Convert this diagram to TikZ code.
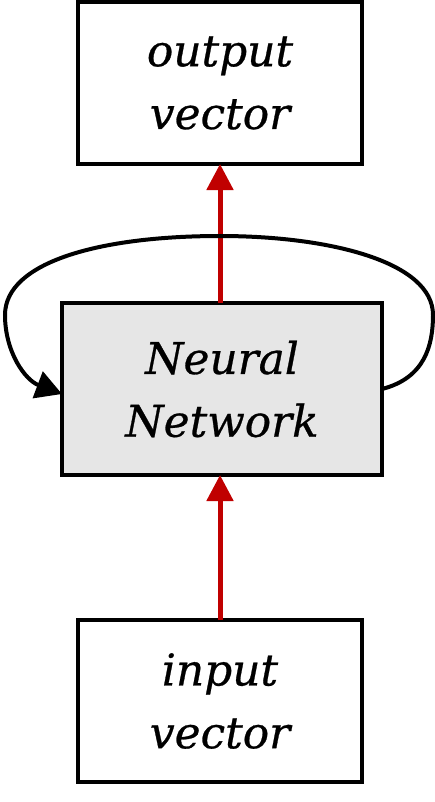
\documentclass[tikz,border=0pt]{standalone}
\usepackage{fontspec}
\setmainfont{DejaVu Serif}
\newfontfamily\boxfont[FakeBold=0.6]{DejaVu Serif}
\usetikzlibrary{arrows.meta}
\definecolor{arrowred}{HTML}{C00000}
\definecolor{nngray}{HTML}{E6E6E6}
\tikzset{
  blockbox/.style={draw=black, line width=4bp, inner sep=0pt, outer sep=0pt,
    align=center, font=\boxfont\itshape\fontsize{44}{63}\selectfont},
  redarrow/.style={draw=arrowred, line width=5bp,
    -{Triangle[length=26bp,width=26bp]}, arrowred},
  looparrow/.style={draw=black, line width=4bp,
    -{Triangle[length=26bp,width=28bp]}},
}
\begin{document}
\begin{tikzpicture}[x=1bp, y={(0bp,-1bp)}]
\useasboundingbox (0,0) rectangle (435,802);
\node[blockbox, minimum width=284bp, minimum height=162bp] (out) at (220,83) {output\\vector};
\node[blockbox, fill=nngray, minimum width=320bp, minimum height=172bp] (nn) at (222,389) {Neural\\Network};
\node[blockbox, minimum width=284bp, minimum height=162bp] (in) at (220,701) {input\\vector};
\draw[redarrow] (in.north -| out.south) -- (nn.south -| out.south);
\draw[redarrow] (nn.north -| out.south) -- (out.south);
\draw[looparrow] (nn.east) .. controls (425,378) and (433,345) .. (433,315)
  .. controls (433,262) and (330,236) .. (220,236)
  .. controls (100,236) and (5,262) .. (5,315)
  .. controls (5,352) and (25,380) .. ([yshift=-5bp]nn.west);
\end{tikzpicture}
\end{document}
